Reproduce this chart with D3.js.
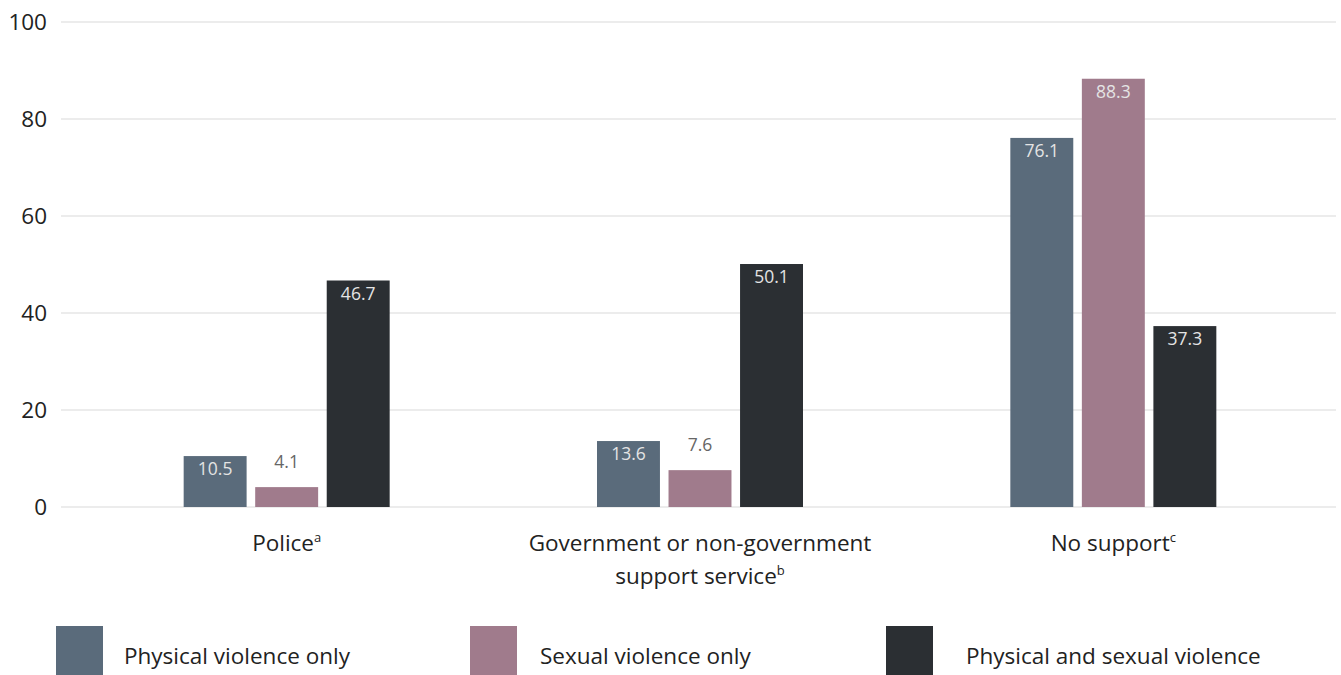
<!DOCTYPE html>
<html><head><meta charset="utf-8">
<script src="https://cdn.jsdelivr.net/npm/d3@7"></script>
<style>body{margin:0;background:#fff}svg{display:block;font-family:"Open Sans",Lato,sans-serif}</style>
</head><body><svg id="c" width="1341" height="675"></svg>
<script>
const categories = ["Police", "Government or non-government support service", "No support"];
const categoryLines = [["Police"], ["Government or non-government", "support service"], ["No support"]];
const categoryNotes = ["a", "b", "c"];
const seriesNames = ["Physical violence only", "Sexual violence only", "Physical and sexual violence"];
const physicalOnly = [10.5, 13.6, 76.1];
const sexualOnly = [4.1, 7.6, 88.3];
const physicalAndSexual = [46.7, 50.1, 37.3];
const yTicks = [0, 20, 40, 60, 80, 100];
const colors = ["#5a6b7b", "#a07b8c", "#2b2f33"];

const series = [physicalOnly, sexualOnly, physicalAndSexual];
const svg = d3.select("#c");
const y = d3.scaleLinear().domain([0, 100]).range([507, 22]);
const x0 = d3.scaleBand().domain(categories).range([80, 1320]);
const x1 = d3.scaleBand().domain(seriesNames).range([0, 206]).paddingInner(0.12);

// gridlines
svg.append("g").selectAll("line").data(yTicks).join("line")
  .attr("x1", 61).attr("x2", 1336)
  .attr("y1", d => y(d)).attr("y2", d => y(d))
  .attr("stroke", "#ececec").attr("stroke-width", 2);
svg.append("g").selectAll("text").data(yTicks).join("text")
  .attr("x", 47).attr("y", d => y(d) + 8)
  .attr("text-anchor", "end").attr("font-size", 22.5).attr("fill", "#222")
  .text(d => d);

const groups = svg.append("g").selectAll("g").data(categories).join("g")
  .attr("transform", c => `translate(${x0(c) + x0.bandwidth()/2 - 103},0)`);

groups.each(function(c, i) {
  const g = d3.select(this);
  series.forEach((s, j) => {
    const v = s[i];
    const bx = x1(seriesNames[j]);
    g.append("rect").attr("x", bx).attr("width", x1.bandwidth())
      .attr("y", y(v)).attr("height", y(0) - y(v)).attr("fill", colors[j]);
    const inside = (y(0) - y(v)) > 50;
    g.append("text").attr("x", bx + x1.bandwidth()/2)
      .attr("y", inside ? y(v) + 19 : y(v) - 19)
      .attr("text-anchor", "middle").attr("font-size", 17.5)
      .attr("fill", inside ? "#e4e4e4" : "#666")
      .text(v.toFixed(1));
  });
});

// category labels
categories.forEach((c, i) => {
  const cx = x0(c) + x0.bandwidth()/2;
  const lines = categoryLines[i];
  lines.forEach((ln, k) => {
    const t = svg.append("text").attr("x", cx).attr("y", 551 + k * 33)
      .attr("text-anchor", "middle").attr("font-size", 22.5).attr("fill", "#222");
    t.append("tspan").text(ln);
    if (k === lines.length - 1) t.append("tspan").attr("font-size", 13).attr("dy", -9).text(categoryNotes[i]);
  });
});

// legend
const legendX = [56, 470, 886];
const legendTextX = [124, 540, 966];
seriesNames.forEach((n, j) => {
  svg.append("rect").attr("x", legendX[j]).attr("y", 626).attr("width", 47).attr("height", 49).attr("fill", colors[j]);
  svg.append("text").attr("x", legendTextX[j]).attr("y", 664).attr("font-size", 22.5).attr("fill", "#222").text(n);
});
</script></body></html>
